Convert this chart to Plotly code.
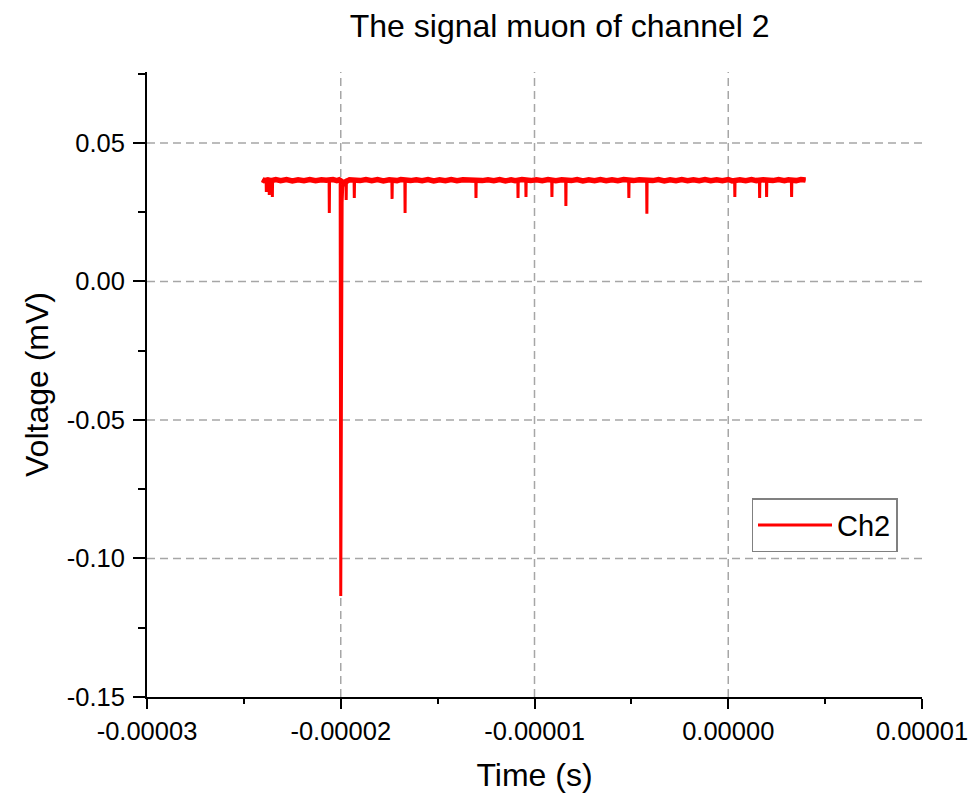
import plotly.graph_objects as go

# Channel 2 baseline samples (time in microseconds, voltage)
baseline_time_us = [
    -24.05, -23.95, -23.76, -23.60, -23.35, -23.10, -22.80, -22.50, -22.20, -21.90,
    -21.60, -21.30, -21.00, -20.75, -20.40, -20.20, -20.08, -19.85, -19.55, -19.00,
    -18.70, -18.40, -18.10, -17.80, -17.50, -17.10, -16.90, -16.40, -16.10, -15.80,
    -15.50, -15.20, -14.90, -14.60, -14.30, -14.00, -13.70, -13.40, -13.20, -12.70,
    -12.40, -12.10, -11.80, -11.50, -11.20, -11.00, -10.65, -10.20, -9.90, -9.60,
    -9.30, -8.90, -8.60, -8.10, -7.80, -7.50, -7.20, -6.90, -6.60, -6.30,
    -6.00, -5.70, -5.40, -4.90, -4.60, -3.90, -3.60, -3.30, -3.00, -2.70,
    -2.40, -2.10, -1.80, -1.50, -1.20, -0.90, -0.60, -0.30, 0.00, 0.20,
    0.60, 0.90, 1.20, 1.45, 1.80, 2.30, 2.60, 2.90, 3.10, 3.50,
    3.75, 3.99,
]
baseline_volt = [
    0.0368, 0.0364, 0.0367, 0.0364, 0.0368, 0.0364, 0.0368, 0.0363, 0.0367, 0.0364,
    0.0368, 0.0364, 0.0367, 0.0365, 0.0368, 0.0364, 0.0367, 0.0356, 0.0367, 0.0364,
    0.0368, 0.0364, 0.0368, 0.0363, 0.0367, 0.0364, 0.0368, 0.0364, 0.0367, 0.0364,
    0.0368, 0.0363, 0.0367, 0.0364, 0.0368, 0.0364, 0.0367, 0.0365, 0.0368, 0.0364,
    0.0367, 0.0364, 0.0368, 0.0363, 0.0367, 0.0364, 0.0368, 0.0364, 0.0367, 0.0364,
    0.0368, 0.0364, 0.0367, 0.0364, 0.0368, 0.0363, 0.0367, 0.0364, 0.0368, 0.0364,
    0.0367, 0.0364, 0.0368, 0.0364, 0.0367, 0.0364, 0.0368, 0.0363, 0.0367, 0.0364,
    0.0368, 0.0364, 0.0367, 0.0364, 0.0368, 0.0364, 0.0367, 0.0364, 0.0368, 0.0363,
    0.0367, 0.0364, 0.0368, 0.0364, 0.0367, 0.0364, 0.0368, 0.0364, 0.0367, 0.0364,
    0.0368, 0.0366,
]
baseline_level = 0.0366

# Short negative noise spikes on the baseline
spike_time_us = [-23.84, -23.69, -23.53, -20.59, -19.72, -19.30, -17.35, -16.68, -13.02, -10.85,
                 -10.44, -9.10, -8.38, -5.13, -4.20, 0.34, 1.62, 1.98, 3.27]
spike_volt = [0.0323, 0.0312, 0.0305, 0.0247, 0.0294, 0.0301, 0.0298, 0.0247, 0.0301, 0.0301,
              0.0305, 0.0305, 0.0272, 0.0301, 0.0244, 0.0305, 0.0301, 0.0305, 0.0305]

# Muon pulse
pulse_time_us = [-20.03, -20.00, -19.985, -19.975, -19.96, -19.93, -19.90]
pulse_volt = [0.0362, -0.1135, -0.0620, -0.0078, 0.0210, 0.0283, 0.0340]

# Axis ticks
x_tickvals = [-0.00003, -0.00002, -0.00001, 0.0, 0.00001]
x_ticktext = ["-0.00003", "-0.00002", "-0.00001", "0.00000", "0.00001"]
y_tickvals = [0.05, 0.0, -0.05, -0.10, -0.15]
y_ticktext = ["0.05", "0.00", "-0.05", "-0.10", "-0.15"]
x_range = [-0.00003, 0.00001]
y_range = [-0.15, 0.0756]

# Assemble the sampled waveform
points = list(zip(baseline_time_us, baseline_volt)) + list(zip(pulse_time_us, pulse_volt))
half_w = 0.012
for t, v in zip(spike_time_us, spike_volt):
    points += [(t - half_w, baseline_level), (t, v), (t + half_w, baseline_level)]
points.sort(key=lambda p: p[0])
time_s = [p[0] * 1e-6 for p in points]
volt = [p[1] for p in points]

FONT = "Arial, 'Liberation Sans', sans-serif"
RED = "#ff0000"

fig = go.Figure()
# Dense noise band along the baseline (drawn thick, no legend entry)
fig.add_trace(go.Scatter(
    x=[t * 1e-6 for t in baseline_time_us], y=baseline_volt, mode="lines",
    line=dict(color=RED, width=5.5), showlegend=False, hoverinfo="skip",
))
fig.add_trace(go.Scatter(
    x=time_s, y=volt, mode="lines", name="Ch2",
    line=dict(color=RED, width=3),
))

# Dashed grid at the interior major ticks
grid_style = dict(color="#a6a6a6", width=1.5, dash="8px,5px")
for xv in x_tickvals:
    if x_range[0] < xv < x_range[1]:
        fig.add_shape(type="line", xref="x", yref="paper", x0=xv, x1=xv, y0=0, y1=1,
                      line=grid_style, layer="below")
for yv in y_tickvals:
    if y_range[0] < yv < y_range[1]:
        fig.add_shape(type="line", xref="paper", yref="y", x0=0, x1=1, y0=yv, y1=yv,
                      line=grid_style, layer="below")

fig.update_layout(
    width=970, height=798,
    margin=dict(l=147, r=48, t=72, b=101),
    paper_bgcolor="white", plot_bgcolor="white",
    font=dict(family=FONT, color="black"),
    title=dict(text="The signal muon of channel 2", font=dict(size=32, family=FONT),
               x=0.577, xref="container", xanchor="center",
               y=1 - 26 / 798, yref="container", yanchor="middle"),
    showlegend=True,
    legend=dict(x=0.78, y=0.318, xanchor="left", yanchor="top",
                bordercolor="#808080", borderwidth=1.5, bgcolor="white",
                font=dict(size=29, family=FONT), itemwidth=74,
                tracegroupgap=0),
)
fig.update_xaxes(
    range=x_range, tickvals=x_tickvals, ticktext=x_ticktext,
    showgrid=False, zeroline=False, automargin=False,
    showline=True, linecolor="black", linewidth=2,
    ticks="outside", ticklen=10, tickwidth=2, tickcolor="black",
    tickfont=dict(size=25.5, family=FONT), ticklabelstandoff=0,
    minor=dict(ticks="outside", ticklen=5, tickwidth=2, tickcolor="black",
               dtick=0.000005, tick0=-0.00003, showgrid=False),
    title=dict(text="Time (s)", font=dict(size=32, family=FONT), standoff=20),
)
fig.update_yaxes(
    range=y_range, tickvals=y_tickvals, ticktext=y_ticktext,
    showgrid=False, zeroline=False, automargin=False,
    showline=True, linecolor="black", linewidth=2,
    ticks="outside", ticklen=12, tickwidth=2, tickcolor="black",
    tickfont=dict(size=25.5, family=FONT), ticklabelstandoff=3,
    minor=dict(ticks="outside", ticklen=7, tickwidth=2, tickcolor="black",
               dtick=0.025, tick0=-0.15, showgrid=False),
    title=dict(text="Voltage (mV)", font=dict(size=32, family=FONT), standoff=9),
)

fig.write_html("out.html")
